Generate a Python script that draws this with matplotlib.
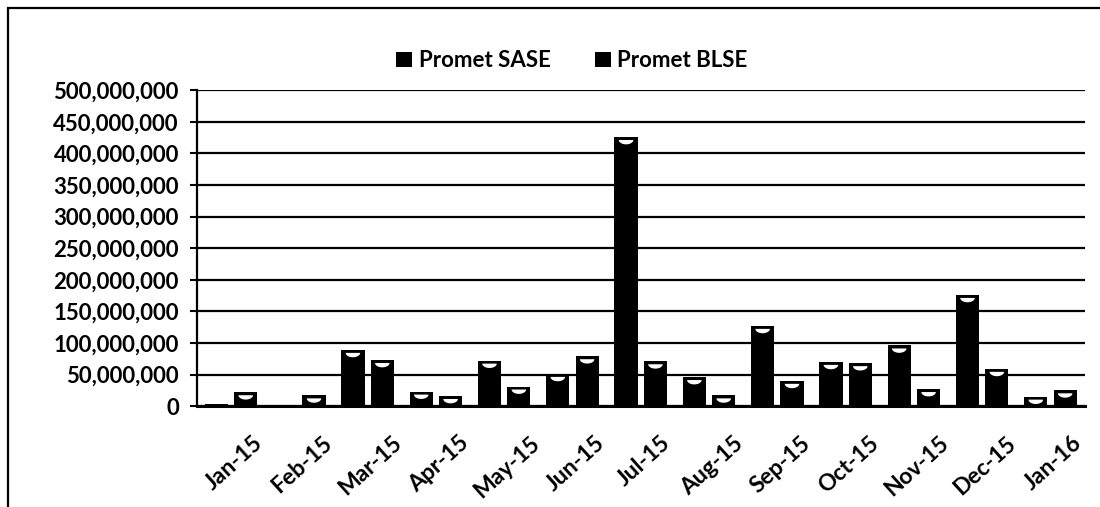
import numpy as np
import matplotlib
matplotlib.use("Agg")
import matplotlib.pyplot as plt
import matplotlib.transforms as mtransforms
from matplotlib.patches import Rectangle
from matplotlib.ticker import FuncFormatter

plt.rcParams['font.family'] = ['Lato', 'DejaVu Sans']

months = ['Jan-15', 'Feb-15', 'Mar-15', 'Apr-15', 'May-15', 'Jun-15', 'Jul-15',
          'Aug-15', 'Sep-15', 'Oct-15', 'Nov-15', 'Dec-15', 'Jan-16']
sase = [4e6, 2e6, 89e6, 23e6, 72e6, 51e6, 426e6, 46e6, 127e6, 70e6, 96e6, 176e6, 15e6]
blse = [22e6, 17e6, 73e6, 16e6, 31e6, 79e6, 71e6, 17e6, 40e6, 68e6, 27e6, 59e6, 25e6]

fig = plt.figure(figsize=(11, 5.07), dpi=100)
ax = fig.add_axes([0.179, 0.199, 0.807, 0.623])

x = np.arange(len(months))
w = 0.34
off = 0.215
ax.bar(x - off, sase, w, color='black', zorder=3, label='Promet SASE')
ax.bar(x + off, blse, w, color='black', zorder=3, label='Promet BLSE')

# white half-disc near the top of each bar (scan artefact in the original)
t = np.linspace(np.pi, 2 * np.pi, 20)
half = np.column_stack([np.cos(t), 0.6 * np.sin(t)])
half = np.vstack([half, half[:1]])
shift = mtransforms.offset_copy(ax.transData, fig=fig, y=-3, units='dots')
for xs, vals in ((x - off, sase), (x + off, blse)):
    keep = [i for i, v in enumerate(vals) if v > 8e6]
    ax.scatter([xs[i] for i in keep], [vals[i] for i in keep], marker=half, s=110,
               color='white', edgecolor='none', transform=shift, zorder=4)

ax.set_xlim(-0.5, len(months) - 0.5)
ax.set_ylim(0, 500e6)
ax.set_yticks(np.arange(0, 500e6 + 1, 50e6))
ax.yaxis.set_major_formatter(FuncFormatter(lambda v, p: f"{int(v):,}"))
ax.grid(axis='y', color='black', linewidth=1.6, zorder=0)
ax.set_xticks(x)
ax.set_xticklabels(months, rotation=42, ha='center', va='top')
ax.tick_params(axis='y', labelsize=16, length=5, width=1.5, direction='out', pad=8)
ax.tick_params(axis='x', labelsize=16.5, length=0, pad=19)
nudge = mtransforms.ScaledTranslation(3 / 100, 0, fig.dpi_scale_trans)
for lbl in ax.get_xticklabels():
    lbl.set_transform(lbl.get_transform() + nudge)
for lbl in ax.get_xticklabels() + ax.get_yticklabels():
    lbl.set_fontweight('bold')

for s in ('top', 'right'):
    ax.spines[s].set_visible(False)
ax.spines['left'].set_linewidth(1.6)
ax.spines['bottom'].set_linewidth(2.2)

leg = fig.legend(loc='center', bbox_to_anchor=(0.52, 0.880), ncol=2, frameon=False,
                 handlelength=0.7, handleheight=0.7, columnspacing=2.0,
                 handletextpad=0.3, prop={'size': 16, 'weight': 'bold'})

# outer frame from the scanned page
fig.patches.append(Rectangle((0.007, -0.05), 1.1, 1.034, transform=fig.transFigure,
                             fill=False, edgecolor='black', linewidth=1.6))

fig.savefig('out.png', dpi=100)
